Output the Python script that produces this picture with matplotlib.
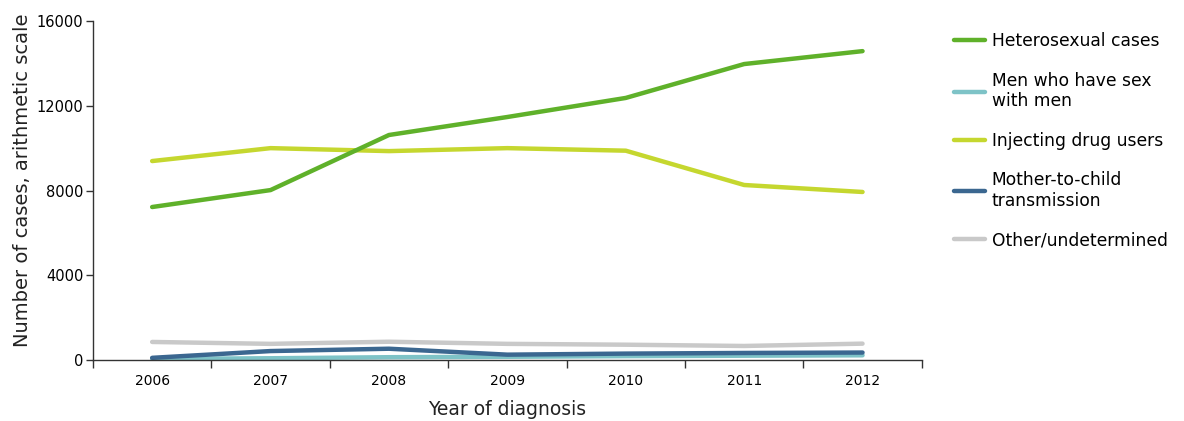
import matplotlib.pyplot as plt
import numpy as np

years = [2006, 2007, 2008, 2009, 2010, 2011, 2012]
hetero = [7220, 8020, 10620, 11470, 12370, 13970, 14580]
msm = [50, 80, 130, 150, 180, 200, 220]
idu = [9390, 10000, 9860, 10000, 9880, 8260, 7930]
mtct = [100, 420, 530, 250, 300, 330, 350]
other = [850, 760, 860, 760, 720, 660, 770]

labels = ['Heterosexual cases', 'Men who have sex\nwith men', 'Injecting drug users',
          'Mother-to-child\ntransmission', 'Other/undetermined']
colors = ['#5fb12a', '#7ec3c7', '#c5d72f', '#3b6790', '#c9c9c9']

plt.rcParams['font.family'] = ['DejaVu Sans']

fig = plt.figure(figsize=(11.84, 4.21), dpi=100)
ax = fig.add_axes([0.0785, 0.145, 0.700, 0.805])

series = [hetero, msm, idu, mtct, other]
# draw order: grey behind, then teal, dark blue, then greens
order = [4, 1, 3, 2, 0]
lines = {}
for i in order:
    ln, = ax.plot(years, series[i], color=colors[i], lw=3.2, solid_capstyle='round',
                  solid_joinstyle='round', label=labels[i])
    lines[i] = ln

ax.set_xlim(2005.5, 2012.5)
ax.set_ylim(0, 16000)
ax.set_yticks([0, 4000, 8000, 12000, 16000])
ax.set_xticks(np.arange(2005.5, 2013, 1))
ax.set_xticklabels([])
ax.set_xticks(years, minor=True)
ax.set_xticklabels([str(y) for y in years], minor=True)
ax.tick_params(axis='x', which='major', length=6, width=1, color='#333333')
ax.tick_params(axis='x', which='minor', length=0, pad=10, labelsize=10)
ax.tick_params(axis='y', length=5, width=1, color='#333333', labelsize=10.5, pad=2)

for s in ['top', 'right']:
    ax.spines[s].set_visible(False)
for s in ['left', 'bottom']:
    ax.spines[s].set_color('#333333')
    ax.spines[s].set_linewidth(1)

ax.set_xlabel('Year of diagnosis', fontsize=13.5, labelpad=9, color='#222222')
ax.set_ylabel('Number of cases, arithmetic scale', fontsize=14, color='#222222')
ax.yaxis.set_label_coords(-0.074, 0.53)

fig.legend([lines[i] for i in range(5)], labels, loc='upper left',
           bbox_to_anchor=(0.793, 0.960), frameon=False, fontsize=12.3,
           handlelength=1.8, handletextpad=0.4, labelspacing=1.25)

fig.savefig('out.png', dpi=100)
